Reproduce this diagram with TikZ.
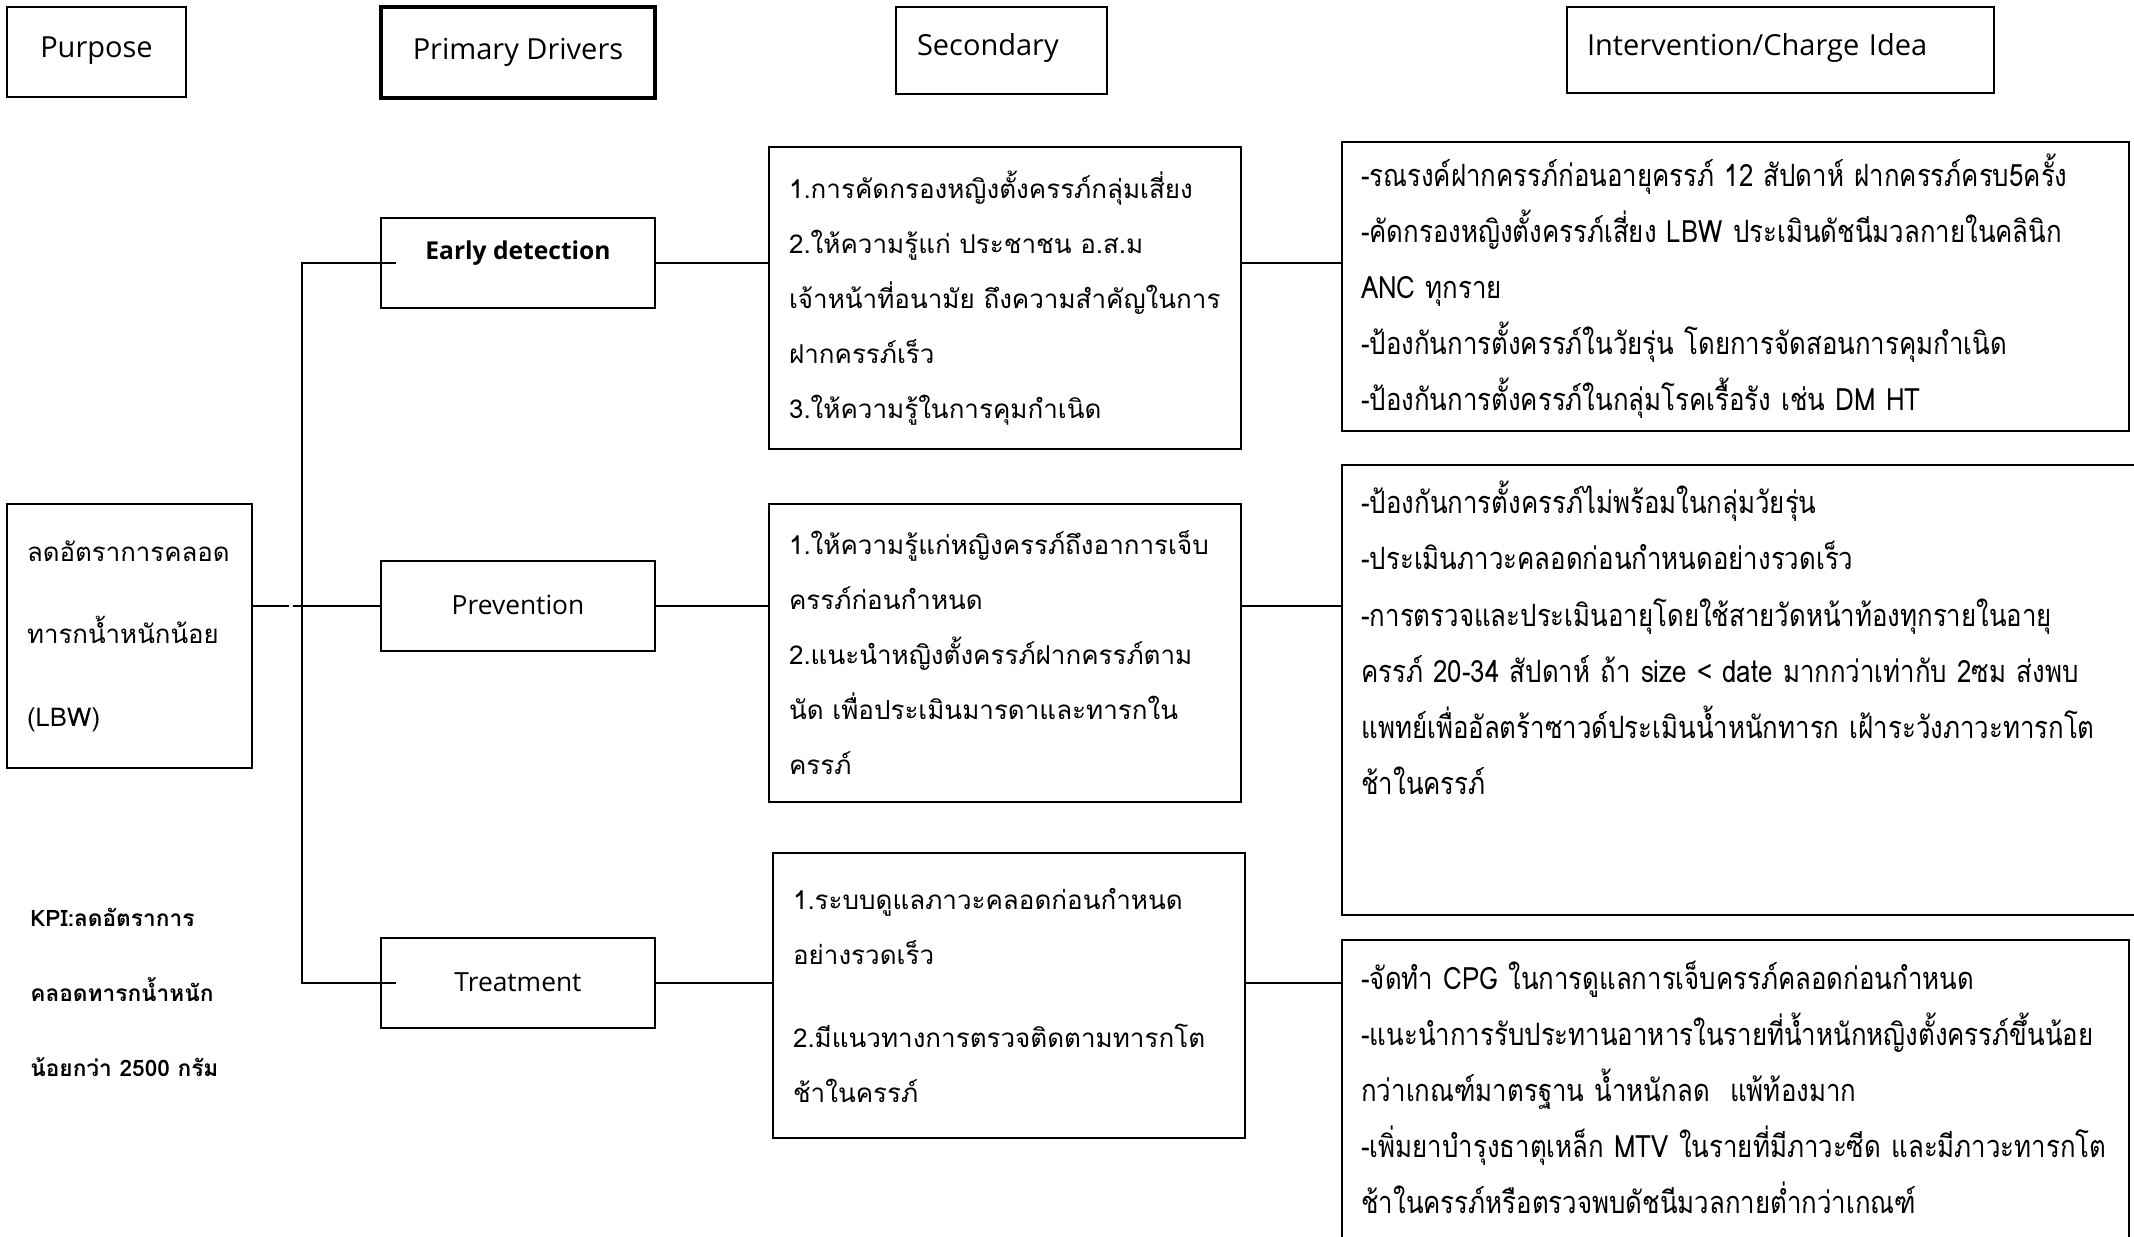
\documentclass[tikz,border=0pt]{standalone}
\usepackage{fontspec}
\setmainfont{Open Sans}
\newfontfamily\thaifont[Script=Thai]{Loma}
\newfontfamily\thainarrow[Script=Thai,FakeStretch=0.84]{Loma}
\begin{document}
\begin{tikzpicture}[x=0.02cm, y=-0.02cm,
  hdr/.style={draw, line width=1pt, inner sep=0pt, text height=0.42cm, text depth=0.2cm, font=\fontsize{16.5pt}{20pt}\selectfont},
  drv/.style={draw, line width=1.2pt, minimum width=5.48cm, minimum height=1.8cm, inner sep=0pt, text height=0.45cm, text depth=0.12cm, font=\fontsize{15pt}{18pt}\selectfont},
  sbox/.style={draw, line width=1.3pt, minimum width=9.44cm, text width=8.64cm, inner xsep=0.4cm, inner ysep=0pt, align=left, font=\thaifont\fontsize{14.8pt}{31.3pt}\selectfont},
  ibox/.style={draw, line width=0.9pt, minimum width=15.74cm, inner sep=0pt},
  itext/.style={inner sep=0pt, text width=15.3cm, align=left, font=\thainarrow\fontsize{17.5pt}{31.9pt}\selectfont},
  conn/.style={line width=1.2pt}]
\useasboundingbox (0,0) rectangle (2134,1237);

% column heads
\node[hdr, minimum width=3.58cm, minimum height=1.8cm] (h1) at (96.5,52) {Purpose};
\node[hdr, line width=2.4pt, minimum width=5.48cm, minimum height=1.82cm, text depth=0.12cm] (h2) at (518,52.5) {Primary Drivers};
\node[hdr, minimum width=4.22cm, minimum height=1.74cm, text width=3.38cm, inner xsep=0.42cm, align=left] (h3) at (1001.5,50.5) {Secondary};
\node[hdr, minimum width=8.54cm, minimum height=1.72cm, text width=7.74cm, inner xsep=0.4cm, align=left] (h4) at (1780.5,50) {Intervention/Charge Idea};

% purpose
\node[draw, line width=1.3pt, minimum width=4.9cm, minimum height=5.28cm, text width=4.1cm, inner xsep=0.4cm, inner ysep=0pt, align=left, font=\thaifont\fontsize{14.7pt}{47pt}\selectfont] (pur) at (129.5,636) {ลดอัตราการคลอด\\ทารกน้ำหนักน้อย\\(LBW)};
\node[inner sep=0pt, anchor=west, align=left, font=\thaifont\bfseries\fontsize{12.9pt}{42.7pt}\selectfont] (kpi) at (30,992) {KPI:ลดอัตราการ\\คลอดทารกน้ำหนัก\\น้อยกว่า 2500 กรัม};

% primary drivers
\coordinate (bus) at (302,263);
\node[drv, text depth=0.61cm, font=\bfseries\fontsize{14pt}{17pt}\selectfont] (ed) at (518,263) {Early detection};
\node[drv] (pv) at (518,606) {Prevention};
\node[drv] (tr) at (518,983) {Treatment};

% secondary
\node[sbox, minimum height=6.04cm] (s1) at (1005,298) {1.การคัดกรองหญิงตั้งครรภ์กลุ่มเสี่ยง\\2.ให้ความรู้แก่ ประชาชน อ.ส.ม\\เจ้าหน้าที่อนามัย ถึงความสำคัญในการ\\ฝากครรภ์เร็ว\\3.ให้ความรู้ในการคุมกำเนิด};
\node[sbox, minimum height=5.96cm] (s2) at (1005,653) {1.ให้ความรู้แก่หญิงครรภ์ถึงอาการเจ็บ\\ครรภ์ก่อนกำหนด\\2.แนะนำหญิงตั้งครรภ์ฝากครรภ์ตาม\\นัด เพื่อประเมินมารดาและทารกใน\\ครรภ์};
\node[sbox, line width=0.9pt, minimum height=5.7cm] (s3) at (1009,995.5) {1.ระบบดูแลภาวะคลอดก่อนกำหนด\\อย่างรวดเร็ว\\[0.56cm]2.มีแนวทางการตรวจติดตามทารกโต\\ช้าในครรภ์};

% interventions
\node[ibox, minimum height=5.78cm, text width=14.98cm, inner xsep=0.38cm, align=left, font=\thainarrow\fontsize{17.5pt}{31.9pt}\selectfont] (i1) at (1735.5,286.5) {-รณรงค์ฝากครรภ์ก่อนอายุครรภ์ 12 สัปดาห์ ฝากครรภ์ครบ5ครั้ง\\-คัดกรองหญิงตั้งครรภ์เสี่ยง LBW ประเมินดัชนีมวลกายในคลินิก\\ANC ทุกราย\\-ป้องกันการตั้งครรภ์ในวัยรุ่น โดยการจัดสอนการคุมกำเนิด\\-ป้องกันการตั้งครรภ์ในกลุ่มโรคเรื้อรัง เช่น DM HT};
\node[ibox, minimum width=16.36cm, minimum height=9cm] (i2) at (1751,690) {};
\node[itext, anchor=north west] (i2t) at (1361,481) {-ป้องกันการตั้งครรภ์ไม่พร้อมในกลุ่มวัยรุ่น\\-ประเมินภาวะคลอดก่อนกำหนดอย่างรวดเร็ว\\-การตรวจและประเมินอายุโดยใช้สายวัดหน้าท้องทุกรายในอายุ\\ครรภ์ 20-34 สัปดาห์ ถ้า size < date มากกว่าเท่ากับ 2ซม ส่งพบ\\แพทย์เพื่ออัลตร้าซาวด์ประเมินน้ำหนักทารก เฝ้าระวังภาวะทารกโต\\ช้าในครรภ์};
\node[ibox, minimum height=6.4cm] (i3) at (1735.5,1100) {};
\node[itext, anchor=north west] (i3t) at (1361,961) {-จัดทำ CPG ในการดูแลการเจ็บครรภ์คลอดก่อนกำหนด\\-แนะนำการรับประทานอาหารในรายที่น้ำหนักหญิงตั้งครรภ์ขึ้นน้อย\\กว่าเกณฑ์มาตรฐาน น้ำหนักลด~~แพ้ท้องมาก\\-เพิ่มยาบำรุงธาตุเหล็ก MTV ในรายที่มีภาวะซีด และมีภาวะทารกโต\\ช้าในครรภ์หรือตรวจพบดัชนีมวลกายต่ำกว่าเกณฑ์};

% connectors
\path[draw,conn,dash pattern=on 0.72cm off 0.08cm on 3cm off 0.01cm] (pv.west -| pur.east) -- (pv.west);
\path[draw,conn] ([xshift=0.32cm]ed.west) -| (bus) |- ([xshift=0.32cm]tr.west);
\path[draw,conn] (ed.east) -- (ed.east -| s1.west);
\path[draw,conn] (ed.east -| s1.east) -- (ed.east -| i1.west);
\path[draw,conn] (pv.east) -- (pv.east -| s2.west);
\path[draw,conn] (pv.east -| s2.east) -- (pv.east -| i2.west);
\path[draw,conn] (tr.east) -- (tr.east -| s3.west);
\path[draw,conn] (tr.east -| s3.east) -- (tr.east -| i3.west);
\end{tikzpicture}
\end{document}
